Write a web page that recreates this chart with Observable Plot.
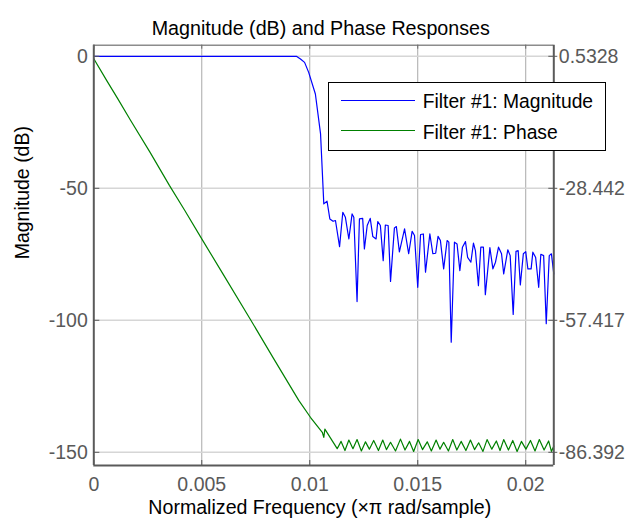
<!DOCTYPE html>
<html>
<head>
<meta charset="utf-8">
<script src="https://cdn.jsdelivr.net/npm/d3@7"></script>
<script src="https://cdn.jsdelivr.net/npm/@observablehq/plot@0.6"></script>
<style>
  html, body { margin: 0; padding: 0; background: #fff; }
  #wrap { position: relative; width: 625px; height: 523px; overflow: hidden; font-family: "Liberation Sans", Arial, sans-serif; }
  #legend { position: absolute; left: 327.7px; top: 82.3px; width: 278px; height: 69px; box-sizing: border-box; border: 1.5px solid #000; background: #fff; }
  #legend .ln { position: absolute; left: 12.5px; width: 74.3px; height: 0; border-top: 1.2px solid; }
  #legend .tx { position: absolute; left: 94px; font-size: 19.3px; line-height: 19.3px; color: #000; white-space: nowrap; }
</style>
</head>
<body>
<div id="wrap"></div>
<script>
// ---------- data ----------
const title = "Magnitude (dB) and Phase Responses";
const xLabel = "Normalized Frequency (\u00d7\u03c0 rad/sample)";
const yLabel = "Magnitude (dB)";
const seriesNames = ["Filter #1: Magnitude", "Filter #1: Phase"];
const seriesColors = ["#0000ff", "#008000"];

const xDomain = [0, 0.0213];
const yDomain = [-155, 4.2];
const xTicks = [0, 0.005, 0.01, 0.015, 0.02];
const xTickLabels = ["0", "0.005", "0.01", "0.015", "0.02"];
const yTicks = [0, -50, -100, -150];
const yTickLabels = ["0", "-50", "-100", "-150"];
const phaseTicks = [0.5328, -28.442, -57.417, -86.392];
const phaseTickLabels = ["0.5328", "-28.442", "-57.417", "-86.392"];

// magnitude response: normalized frequency, dB
const magFreq = [0, 0.00938, 0.00957, 0.00976, 0.00995, 0.01026, 0.01050, 0.01065, 0.01080, 0.01093,
  0.01108, 0.01119, 0.01138, 0.01153, 0.01165, 0.01181, 0.01196, 0.01204, 0.01219, 0.01230,
  0.01245, 0.01253, 0.01266, 0.01280, 0.01292, 0.01307, 0.01315, 0.01327, 0.01340, 0.01350,
  0.01363, 0.01374, 0.01392, 0.01401, 0.01415, 0.01439, 0.01458, 0.01474, 0.01485, 0.01500,
  0.01513, 0.01526, 0.01536, 0.01556, 0.01570, 0.01583, 0.01594, 0.01605, 0.01620, 0.01636,
  0.01644, 0.01655, 0.01670, 0.01682, 0.01695, 0.01707, 0.01721, 0.01731, 0.01746, 0.01758,
  0.01767, 0.01781, 0.01792, 0.01804, 0.01813, 0.01834, 0.01848, 0.01860, 0.01874, 0.01888,
  0.01898, 0.01917, 0.01928, 0.01942, 0.01955, 0.01965, 0.01975, 0.01989, 0.02000, 0.02010,
  0.02025, 0.02033, 0.02046, 0.02060, 0.02070, 0.02083, 0.02095, 0.02109, 0.02119, 0.02130];
const magDb = [0, 0, -1.0, -2.3, -6.1, -14.3, -29.4, -55.9, -54.9, -61.6,
  -62.5, -62.2, -72.1, -59.1, -61.0, -69.2, -59.7, -61.0, -92.9, -61.6,
  -61.4, -73.0, -64.1, -61.4, -68.3, -69.2, -62.6, -64.1, -77.4, -63.9,
  -64.1, -85.3, -65.0, -64.5, -74.1, -65.4, -74.8, -66.3, -67.9, -87.5,
  -67.5, -67.3, -81.8, -67.3, -74.8, -74.6, -68.2, -69.8, -80.5, -69.8,
  -70.4, -108.3, -70.4, -71.1, -81.2, -72.3, -70.2, -76.2, -78.0, -70.8,
  -73.6, -86.9, -72.3, -72.3, -90.3, -72.5, -80.5, -78.0, -72.3, -74.8,
  -82.4, -73.3, -75.5, -97.8, -73.9, -73.6, -86.6, -74.8, -74.0, -80.5,
  -80.5, -74.2, -76.2, -87.5, -75.0, -75.5, -101.3, -75.5, -74.8, -82.4];

// phase response: normalized frequency, radians (right axis)
const phaseFreq = [0, 0.00060, 0.00110, 0.00170, 0.00260, 0.00350, 0.00420, 0.00502, 0.00600, 0.00726,
  0.00830, 0.00949, 0.01003, 0.01058, 0.01065, 0.01070,
  0.01127, 0.01145, 0.01163, 0.01181, 0.01200, 0.01219, 0.01239, 0.01258, 0.01276, 0.01296,
  0.01318, 0.01338, 0.01355, 0.01374, 0.01397, 0.01420, 0.01441, 0.01462, 0.01481, 0.01502,
  0.01522, 0.01544, 0.01563, 0.01585, 0.01603, 0.01620, 0.01642, 0.01662, 0.01681, 0.01701,
  0.01723, 0.01744, 0.01763, 0.01782, 0.01802, 0.01821, 0.01843, 0.01864, 0.01881, 0.01898,
  0.01920, 0.01940, 0.01960, 0.01980, 0.02001, 0.02022, 0.02043, 0.02063, 0.02085, 0.02106,
  0.02119, 0.02130];
const phaseRad = [0, -4.8, -8.7, -13.5, -20.5, -27.8, -33.2, -39.7, -47.4, -57.3,
  -65.6, -75.0, -78.7, -82.0, -83.1, -81.3,
  -85.6, -84.0, -86.0, -83.7, -85.6, -83.6, -86.1, -84.1, -85.7, -83.8,
  -86.0, -83.7, -85.8, -84.2, -86.1, -83.5, -85.9, -84.0, -86.2, -83.6,
  -85.8, -84.1, -86.1, -83.7, -85.7, -84.2, -86.1, -83.6, -85.9, -84.0,
  -86.0, -83.7, -85.8, -84.3, -86.2, -83.6, -85.7, -83.9, -86.0, -83.6,
  -85.9, -83.8, -86.2, -84.0, -85.7, -83.8, -86.1, -83.6, -85.9, -83.9,
  -86.2, -85.0];

// ---------- build ----------
const mag = magFreq.map((f, i) => ({f, v: magDb[i]}));
const phase = phaseFreq.map((f, i) => ({f, v: phaseRad[i]}));
// right axis is linked linearly to left axis ticks
const k = (yTicks[3] - yTicks[0]) / (phaseTicks[3] - phaseTicks[0]);
const phaseToDb = p => yTicks[0] + (p - phaseTicks[0]) * k;

const W = 625, H = 523;
const mT = 44.7, mR = 71.7, mB = 58, mL = 93.3;
const fw = W - mL - mR, fh = H - mT - mB;

const chart = Plot.plot({
  width: W, height: H,
  marginTop: mT, marginRight: mR, marginBottom: mB, marginLeft: mL,
  style: {fontFamily: "'Liberation Sans', Arial, sans-serif", fontSize: "19.5px", color: "#595959", background: "#fff"},
  x: {domain: xDomain},
  y: {domain: yDomain},
  marks: [
    Plot.gridX(xTicks.slice(1), {stroke: "#a8a8a8", strokeOpacity: 1, strokeWidth: 1}),
    Plot.gridY(yTicks, {stroke: "#d6d6d6", strokeOpacity: 1, strokeWidth: 1.6}),
    Plot.line(mag, {x: "f", y: "v", stroke: seriesColors[0], strokeWidth: 1.2}),
    Plot.line(phase, {x: "f", y: d => phaseToDb(d.v), stroke: seriesColors[1], strokeWidth: 1.2}),
    Plot.ruleY([yDomain[1]], {stroke: "#8c8c8c", strokeWidth: 1.5}),
    Plot.ruleY([yDomain[0]], {stroke: "#5a5a5a", strokeWidth: 2}),
    Plot.ruleX(xDomain, {stroke: "#5a5a5a", strokeWidth: 2}),
    Plot.tickX(xTicks, {x: d => d, stroke: "#5a5a5a", insetTop: fh - 5}),
    Plot.tickX(xTicks, {x: d => d, stroke: "#6a6a6a", insetBottom: fh - 4}),
    Plot.tickY(yTicks, {y: d => d, stroke: "#5a5a5a", insetRight: fw - 6}),
    Plot.tickY(yTicks, {y: d => d, stroke: "#5a5a5a", insetLeft: fw - 5, insetRight: -4}),
    Plot.axisX(xTicks, {anchor: "bottom", tickSize: 0, tickPadding: 11.5, label: null,
      tickFormat: d => xTickLabels[xTicks.indexOf(d)]}),
    Plot.axisY(yTicks, {anchor: "left", tickSize: 0, tickPadding: 6, label: null,
      tickFormat: d => yTickLabels[yTicks.indexOf(d)]}),
    Plot.axisY(yTicks, {anchor: "right", tickSize: 0, tickPadding: 5, label: null,
      tickFormat: d => phaseTickLabels[yTicks.indexOf(d)]}),
    Plot.text([title], {text: d => d, frameAnchor: "top", dy: -24.5, dx: -3, fontSize: 19.7, fill: "#000"}),
    Plot.text([xLabel], {text: d => d, frameAnchor: "bottom", dy: 48, dx: -4, fontSize: 19.6, fill: "#000"}),
    Plot.text([yLabel], {text: d => d, frameAnchor: "left", dx: -71, dy: 4, rotate: -90, fontSize: 19.5, fill: "#000"})
  ]
});

const wrap = document.getElementById("wrap");
wrap.appendChild(chart);

// legend
const legend = document.createElement("div");
legend.id = "legend";
const rowTops = [8.3, 39.3];
const lineTops = [16.7, 46.7];
seriesNames.forEach((name, i) => {
  const ln = document.createElement("div");
  ln.className = "ln";
  ln.style.top = lineTops[i] + "px";
  ln.style.borderTopColor = seriesColors[i];
  legend.appendChild(ln);
  const tx = document.createElement("div");
  tx.className = "tx";
  tx.style.top = rowTops[i] + "px";
  tx.textContent = name;
  legend.appendChild(tx);
});
wrap.appendChild(legend);
</script>
</body>
</html>
